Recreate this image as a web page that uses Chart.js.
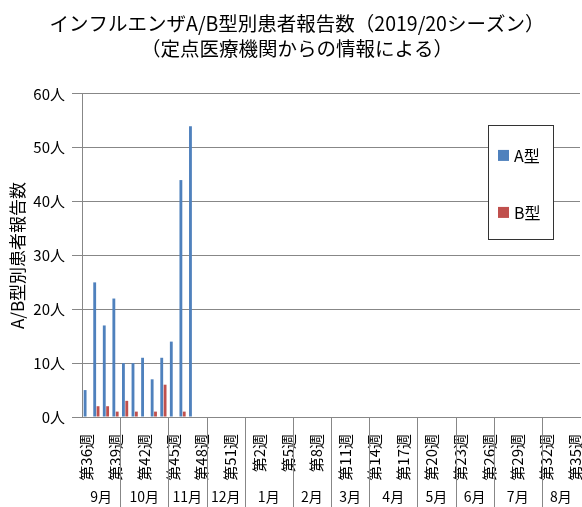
<!DOCTYPE html>
<html>
<head>
<meta charset="utf-8">
<script src="https://cdn.jsdelivr.net/npm/chart.js@4"></script>
<style>
  html, body { margin: 0; padding: 0; background: #fff; }
  canvas { display: block; }
</style>
</head>
<body>
<canvas id="chart" width="582" height="507"></canvas>
<script>
// 週ラベル（2019年第36週〜2020年第35週）
const semanas = [
  "第36週", "第37週", "第38週", "第39週", "第40週", "第41週", "第42週", "第43週",
  "第44週", "第45週", "第46週", "第47週", "第48週", "第49週", "第50週", "第51週",
  "第52週", "第1週", "第2週", "第3週", "第4週", "第5週", "第6週", "第7週",
  "第8週", "第9週", "第10週", "第11週", "第12週", "第13週", "第14週", "第15週",
  "第16週", "第17週", "第18週", "第19週", "第20週", "第21週", "第22週", "第23週",
  "第24週", "第25週", "第26週", "第27週", "第28週", "第29週", "第30週", "第31週",
  "第32週", "第33週", "第34週", "第35週"
];

// 患者報告数
const tipoA = [5, 25, 17, 22, 10, 10, 11, 7, 11, 14, 44, 54];
const tipoB = [0, 2, 2, 1, 3, 1, 0, 1, 6, 0, 1, 0];

// 月ラベルと各月の週数
const meses = ["9月", "10月", "11月", "12月", "1月", "2月", "3月", "4月", "5月", "6月", "7月", "8月"];
const semanasPorMes = [4, 5, 4, 4, 5, 4, 4, 5, 4, 4, 5, 4];

// 目盛り
const yMax = 60;
const yPaso = 10;

const fuente = "'Noto Sans CJK JP', 'Noto Sans', sans-serif";
const gris = "#878787";

// 月ラベルと区切り線を描く
const pluginMeses = {
  id: "meses",
  afterDraw(chart) {
    const ctx = chart.ctx;
    const x = chart.scales.x;
    const top = chart.chartArea.bottom;
    const bottom = chart.height;
    const paso = (x.right - x.left) / semanas.length;
    ctx.save();
    ctx.strokeStyle = gris;
    ctx.lineWidth = 1;
    ctx.fillStyle = "#000";
    ctx.font = "14px " + fuente;
    ctx.textAlign = "center";
    ctx.textBaseline = "middle";
    let inicio = 0;
    meses.forEach((mes, i) => {
      const fin = inicio + semanasPorMes[i];
      const x0 = x.left + inicio * paso;
      const x1 = x.left + fin * paso;
      ctx.fillText(mes, (x0 + x1) / 2, bottom - 10);
      if (fin < semanas.length) {
        const xl = Math.round(x1) + 0.5;
        ctx.beginPath();
        ctx.moveTo(xl, top);
        ctx.lineTo(xl, bottom);
        ctx.stroke();
      }
      inicio = fin;
    });
    ctx.restore();
  },
};

// 枠付きの凡例
const pluginLeyenda = {
  id: "leyenda",
  afterDraw(chart) {
    const ctx = chart.ctx;
    const area = chart.chartArea;
    const bx = area.right - 92;
    const by = area.top + 31;
    const bw = 65;
    const bh = 114;
    ctx.save();
    ctx.fillStyle = "#fff";
    ctx.fillRect(bx, by, bw, bh);
    ctx.strokeStyle = "#333";
    ctx.lineWidth = 1;
    ctx.strokeRect(Math.round(bx) + 0.5, Math.round(by) + 0.5, bw, bh);
    ctx.font = "16px " + fuente;
    ctx.textBaseline = "middle";
    chart.data.datasets.forEach((ds, i) => {
      const cy = by + 30 + i * 57;
      ctx.fillStyle = ds.backgroundColor;
      ctx.fillRect(bx + 10, cy - 5, 11, 11);
      ctx.fillStyle = "#000";
      ctx.fillText(ds.label, bx + 26, cy + 1);
    });
    ctx.restore();
  },
};

new Chart(document.getElementById("chart"), {
  type: "bar",
  data: {
    labels: semanas,
    datasets: [
      { label: "A型", data: tipoA, backgroundColor: "#4F81BD" },
      { label: "B型", data: tipoB, backgroundColor: "#C0504D" },
    ],
  },
  options: {
    responsive: false,
    animation: false,
    devicePixelRatio: 1,
    categoryPercentage: 0.7,
    barPercentage: 0.85,
    layout: { padding: { left: 14, right: 2, top: 11, bottom: 0 } },
    plugins: {
      legend: { display: false },
      tooltip: { enabled: false },
      title: {
        display: true,
        text: ["インフルエンザA/B型別患者報告数（2019/20シーズン）", "（定点医療機関からの情報による）"],
        color: "#000",
        font: { family: fuente, size: 19.5, weight: "normal", lineHeight: 1.28 },
        padding: { top: 0, bottom: 33 },
      },
    },
    scales: {
      x: {
        grid: { display: false },
        border: { display: true, color: gris },
        ticks: {
          autoSkip: false,
          minRotation: 90,
          maxRotation: 90,
          padding: 9,
          color: "#000",
          font: { family: fuente, size: 15 },
          callback: (v, i) => (i % 3 === 0 ? semanas[i] : null),
        },
        afterFit: (scale) => {
          scale.height = 90;
          scale.paddingLeft = 0;
          scale.paddingRight = 0;
        },
      },
      y: {
        min: 0,
        max: yMax,
        ticks: {
          stepSize: yPaso,
          padding: 7,
          color: "#000",
          font: { family: fuente, size: 15 },
          callback: (v) => v + "人",
        },
        grid: { color: gris, tickLength: 10 },
        border: { color: gris },
        title: {
          display: true,
          text: "A/B型別患者報告数",
          color: "#000",
          font: { family: fuente, size: 17 },
          padding: { top: -7, bottom: 0 },
        },
        afterFit: (scale) => { scale.width = 68; },
      },
    },
  },
  plugins: [pluginMeses, pluginLeyenda],
});
</script>
</body>
</html>
